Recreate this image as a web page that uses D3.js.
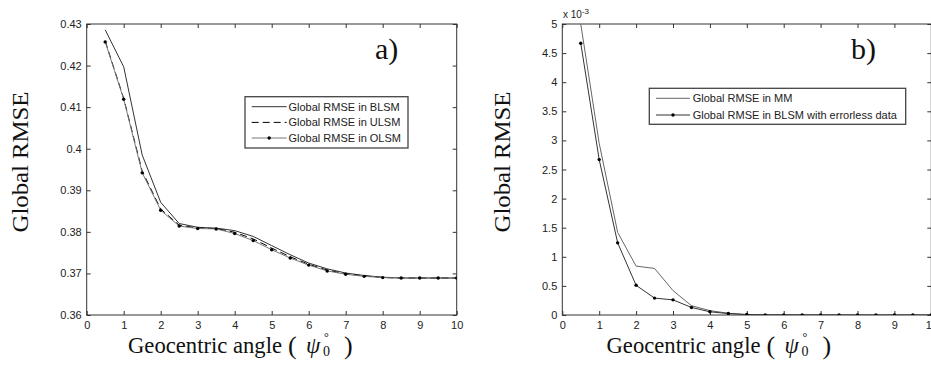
<!DOCTYPE html>
<html>
<head>
<meta charset="utf-8">
<script src="https://cdn.jsdelivr.net/npm/d3@7"></script>
<style>
  body { margin: 0; background: #fff; }
  svg { display: block; }
</style>
</head>
<body>
<svg id="fig" width="931" height="368"></svg>
<script>
// Geocentric angle (degrees) at which each RMSE was evaluated
const angles = [0.5, 1, 1.5, 2, 2.5, 3, 3.5, 4, 4.5, 5, 5.5, 6, 6.5, 7, 7.5, 8, 8.5, 9, 9.5, 10];

// Panel a): global RMSE of the three least-squares variants
const rmseBLSM = [0.4286, 0.4197, 0.3985, 0.3871, 0.3820, 0.3811, 0.3809, 0.3803, 0.3789, 0.3767,
                  0.3745, 0.3725, 0.3711, 0.3701, 0.3695, 0.3691, 0.3689, 0.3689, 0.3689, 0.3689];
const rmseULSM = [0.4259, 0.4121, 0.3946, 0.3855, 0.3816, 0.3809, 0.3808, 0.3799, 0.3783, 0.3761,
                  0.3740, 0.3722, 0.3708, 0.3699, 0.3694, 0.3690, 0.3689, 0.3689, 0.3689, 0.3689];
const rmseOLSM = [0.4257, 0.4119, 0.3942, 0.3852, 0.3814, 0.3808, 0.3807, 0.3796, 0.3779, 0.3757,
                  0.3737, 0.3720, 0.3706, 0.3698, 0.3693, 0.3690, 0.3689, 0.3689, 0.3689, 0.3689];

// Panel b): global RMSE in units of 1e-3
const rmseMM        = [5.00, 2.95, 1.42, 0.84, 0.80, 0.42, 0.16, 0.075, 0.03, 0.006,
                       0.002, 0.001, 0, 0, 0, 0, 0, 0, 0, 0];
const rmseErrorless = [4.67, 2.67, 1.24, 0.51, 0.29, 0.26, 0.13, 0.055, 0.025, 0.008,
                       0.003, 0.002, 0.001, 0.001, 0, 0, 0, 0, 0, 0];

// Tick values
const xTicks  = [0, 1, 2, 3, 4, 5, 6, 7, 8, 9, 10];
const yTicksA = [0.36, 0.37, 0.38, 0.39, 0.40, 0.41, 0.42, 0.43];
const yTicksB = [0, 0.5, 1, 1.5, 2, 2.5, 3, 3.5, 4, 4.5, 5];

const svg = d3.select("#fig");
const SANS = "'Liberation Sans', Arial, sans-serif";
const SERIF = "'Liberation Serif', 'Times New Roman', serif";
const TOP = 24, BOTTOM = 315;

function serifText(parent, x, y, size, str) {
  return parent.append("text")
    .attr("x", x).attr("y", y)
    .attr("fill", "#111")
    .style("font-family", SERIF).style("font-size", size + "px")
    .text(str);
}

function drawPanel(cfg) {
  const g = svg.append("g");
  const x = d3.scaleLinear().domain([0, 10]).range([cfg.left, cfg.right]);
  const y = d3.scaleLinear().domain(cfg.yDomain).range([BOTTOM, TOP]);

  const clipId = "clip-" + cfg.id;
  g.append("clipPath").attr("id", clipId)
    .append("rect")
    .attr("x", cfg.left).attr("y", TOP)
    .attr("width", cfg.right - cfg.left).attr("height", BOTTOM - TOP);

  // Inward ticks on all four sides, labels on bottom and left
  const styleAxis = sel => {
    sel.select(".domain").remove();
    sel.selectAll(".tick line").attr("stroke", "#333");
    sel.selectAll(".tick text")
      .attr("fill", "#222")
      .style("font-family", SANS)
      .style("font-size", "11px");
  };
  g.append("g").attr("transform", `translate(0,${BOTTOM})`)
    .call(d3.axisBottom(x).tickValues(xTicks).tickSize(-4).tickSizeOuter(0)
      .tickPadding(6).tickFormat(d3.format("d")))
    .call(styleAxis);
  g.append("g").attr("transform", `translate(0,${TOP})`)
    .call(d3.axisTop(x).tickValues(xTicks).tickSize(-4).tickSizeOuter(0).tickFormat(""))
    .call(styleAxis);
  g.append("g").attr("transform", `translate(${cfg.left},0)`)
    .call(d3.axisLeft(y).tickValues(cfg.yTicks).tickSize(-4).tickSizeOuter(0)
      .tickPadding(5).tickFormat(cfg.yFormat))
    .call(styleAxis);
  g.append("g").attr("transform", `translate(${cfg.right},0)`)
    .call(d3.axisRight(y).tickValues(cfg.yTicks).tickSize(-4).tickSizeOuter(0).tickFormat(""))
    .call(styleAxis);

  g.append("rect")
    .attr("x", cfg.left).attr("y", TOP)
    .attr("width", cfg.right - cfg.left).attr("height", BOTTOM - TOP)
    .attr("fill", "none").attr("stroke", "#333").attr("stroke-width", 1);

  // Data series
  const plot = g.append("g").attr("clip-path", `url(#${clipId})`);
  const line = d3.line().x((d, i) => x(angles[i])).y(d => y(d));
  cfg.series.forEach(s => {
    plot.append("path")
      .datum(s.values)
      .attr("d", line)
      .attr("fill", "none")
      .attr("stroke", s.color)
      .attr("stroke-width", 1)
      .attr("stroke-dasharray", s.dash || null);
    if (s.markers) {
      plot.selectAll(null)
        .data(s.values)
        .join("circle")
        .attr("cx", (d, i) => x(angles[i]))
        .attr("cy", d => y(d))
        .attr("r", 1.7)
        .attr("fill", "#000");
    }
  });

  // Legend
  const L = cfg.legend;
  const lg = g.append("g");
  lg.append("rect")
    .attr("x", L.x).attr("y", L.y).attr("width", L.w).attr("height", L.h)
    .attr("fill", "#fff").attr("stroke", "#444").attr("stroke-width", 1.3);
  cfg.series.forEach((s, i) => {
    const ry = L.rowY[i];
    lg.append("line")
      .attr("x1", L.x + L.lineX0).attr("x2", L.x + L.lineX1)
      .attr("y1", ry).attr("y2", ry)
      .attr("stroke", s.color).attr("stroke-width", 1)
      .attr("stroke-dasharray", s.dash || null);
    if (s.markers) {
      lg.append("circle")
        .attr("cx", L.x + (L.lineX0 + L.lineX1) / 2).attr("cy", ry)
        .attr("r", 1.7).attr("fill", "#000");
    }
    lg.append("text")
      .attr("x", L.x + L.textX).attr("y", ry + 4)
      .attr("fill", "#222")
      .style("font-family", SANS).style("font-size", "11px")
      .text(s.name);
  });

  // Panel tag
  serifText(g, cfg.tagX, 59, 30, cfg.tag);

  // Y axis title
  g.append("text")
    .attr("transform", `translate(${cfg.yTitleX},162) rotate(-90)`)
    .attr("text-anchor", "middle")
    .attr("textLength", 141).attr("lengthAdjust", "spacingAndGlyphs")
    .style("font-family", SERIF).style("font-size", "24px")
    .attr("fill", "#111")
    .text("Global RMSE");

  // X axis title: Geocentric angle (ψ°₀)
  const base = 353, S = cfg.xTitleX;
  serifText(g, S, base, 23, "Geocentric angle")
    .attr("textLength", 154).attr("lengthAdjust", "spacingAndGlyphs");
  serifText(g, S + 160, base + 1, 26, "(");
  serifText(g, S + 178, base, 23, "ψ").style("font-style", "italic");
  serifText(g, S + 196, base - 12, 12, "°");
  serifText(g, S + 195, base + 3, 14, "0");
  serifText(g, S + 216, base + 1, 26, ")");

  return { g, x, y };
}

drawPanel({
  id: "a",
  left: 86.7, right: 456.7,
  yDomain: [0.36, 0.43],
  yTicks: yTicksA,
  yFormat: d3.format(".2~f"),
  series: [
    { name: "Global RMSE in BLSM", values: rmseBLSM, color: "#333" },
    { name: "Global RMSE in ULSM", values: rmseULSM, color: "#000", dash: "7,4" },
    { name: "Global RMSE in OLSM", values: rmseOLSM, color: "#777", markers: true }
  ],
  legend: { x: 245, y: 96.7, w: 163, h: 51.3, rowY: [106.7, 122.4, 138], lineX0: 6.7, lineX1: 41.7, textX: 43.5 },
  tag: "a)", tagX: 375,
  yTitleX: 28,
  xTitleX: 128
});

const pb = drawPanel({
  id: "b",
  left: 562.3, right: 931.3,
  yDomain: [0, 5],
  yTicks: yTicksB,
  yFormat: d3.format(".1~f"),
  series: [
    { name: "Global RMSE in MM", values: rmseMM, color: "#666" },
    { name: "Global RMSE in BLSM with errorless data", values: rmseErrorless, color: "#333", markers: true }
  ],
  legend: { x: 649.3, y: 88.3, w: 256.4, h: 36, rowY: [98.3, 115], lineX0: 6.7, lineX1: 40.7, textX: 43.4 },
  tag: "b)", tagX: 851,
  yTitleX: 509.5,
  xTitleX: 606.5
});

// Exponent note for panel b)
const ex = pb.g.append("text")
  .attr("x", 563).attr("y", 18)
  .attr("fill", "#222")
  .style("font-family", SANS).style("font-size", "10px");
ex.append("tspan").text("x 10");
ex.append("tspan").attr("dy", -4).style("font-size", "8px").text("-3");
</script>
</body>
</html>
